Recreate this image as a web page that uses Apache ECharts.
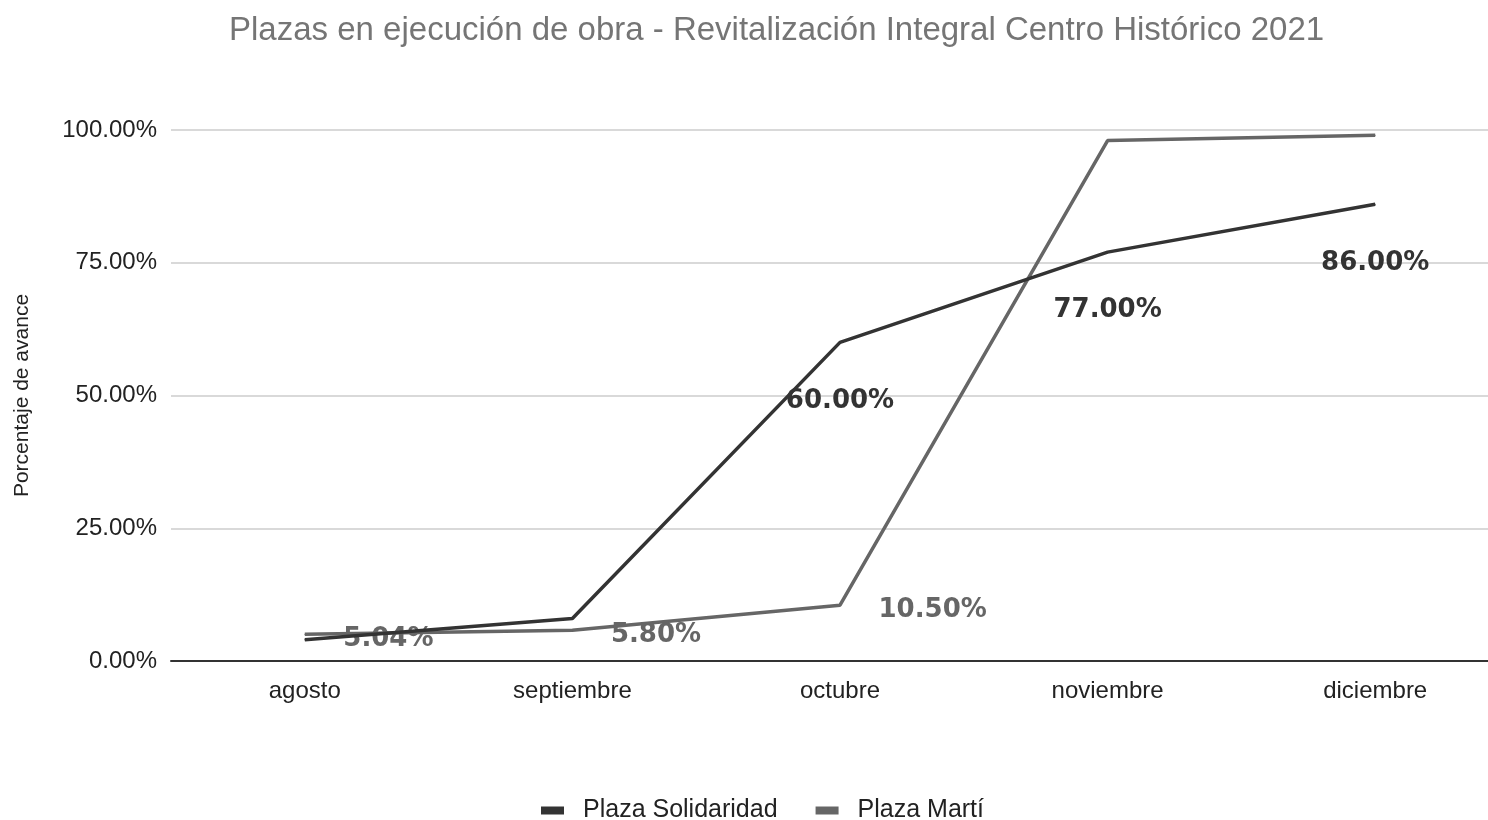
<!DOCTYPE html>
<html>
<head>
<meta charset="utf-8">
<title>Plazas en ejecución de obra</title>
<script src="https://cdn.jsdelivr.net/npm/echarts@6/dist/echarts.min.js"></script>
<style>
  html, body { margin: 0; padding: 0; background: #fff; }
  #chart { width: 1488px; height: 820px; }
</style>
</head>
<body>
<div id="chart"></div>
<script>
const months = ['agosto', 'septiembre', 'octubre', 'noviembre', 'diciembre']
const solidaridad = [4.0, 8.0, 60.0, 77.0, 86.0]
const marti = [5.04, 5.8, 10.5, 98.0, 99.0]
// which points carry a value label
const solidaridadLabels = [false, false, true, true, true]
const martiLabels = [true, true, true, false, false]
const yTicks = [0, 25, 50, 75, 100]

const font = '"Liberation Sans", Arial, sans-serif'
const labelFont = '"DejaVu Sans", sans-serif'

function withLabels(values, flags, position) {
  const below = position === 'bottom'
  return values.map((v, i) => ({
    value: v,
    label: {
      show: flags[i],
      position: position,
      distance: below ? 45 : 38,
      offset: below ? [0, 0] : [0, 5]
    }
  }))
}

const chart = echarts.init(document.getElementById('chart'))
chart.setOption({
  animation: false,
  color: ['#333333', '#666666'],
  title: {
    text: 'Plazas en ejecución de obra - Revitalización Integral Centro Histórico 2021',
    left: 224,
    top: 9,
    textStyle: { fontFamily: font, fontSize: 33, fontWeight: 'normal', color: '#757575' }
  },
  legend: {
    top: 793,
    left: 536,
    icon: 'rect',
    itemWidth: 23,
    itemHeight: 8,
    itemGap: 38,
    textStyle: { fontFamily: font, fontSize: 25, color: '#222', padding: [0, 0, 0, 14] },
    data: ['Plaza Solidaridad', 'Plaza Martí']
  },
  grid: { left: 171, right: -21, top: 130, bottom: 159, outerBoundsMode: 'none', containLabel: false },
  xAxis: {
    type: 'category',
    data: months,
    boundaryGap: true,
    axisTick: { show: false },
    axisLine: { lineStyle: { color: '#333', width: 2 } },
    axisLabel: { fontFamily: font, fontSize: 24, color: '#222', margin: 18 }
  },
  yAxis: {
    type: 'value',
    min: yTicks[0],
    max: yTicks[yTicks.length - 1],
    interval: 25,
    name: 'Porcentaje de avance',
    nameLocation: 'middle',
    nameGap: 138,
    nameTextStyle: { fontFamily: font, fontSize: 21, color: '#222' },
    axisLine: { show: false },
    axisTick: { show: false },
    splitLine: { lineStyle: { color: '#cccccc', width: 1.5 } },
    axisLabel: {
      fontFamily: font, fontSize: 24, color: '#222', margin: 14,
      formatter: v => v.toFixed(2) + '%'
    }
  },
  series: [
    {
      name: 'Plaza Solidaridad',
      type: 'line',
      data: withLabels(solidaridad, solidaridadLabels, 'bottom'),
      symbol: 'circle',
      symbolSize: 1,
      lineStyle: { width: 3.5, color: '#333333' },
      label: {
        fontFamily: labelFont, fontSize: 26, fontWeight: 'bold', color: '#333',
        formatter: p => p.value.toFixed(2) + '%'
      },
      z: 3
    },
    {
      name: 'Plaza Martí',
      type: 'line',
      data: withLabels(marti, martiLabels, 'right'),
      symbol: 'circle',
      symbolSize: 1,
      lineStyle: { width: 3.5, color: '#666666' },
      label: {
        fontFamily: labelFont, fontSize: 26, fontWeight: 'bold', color: '#666',
        formatter: p => p.value.toFixed(2) + '%'
      },
      z: 2
    }
  ]
})
</script>
</body>
</html>
